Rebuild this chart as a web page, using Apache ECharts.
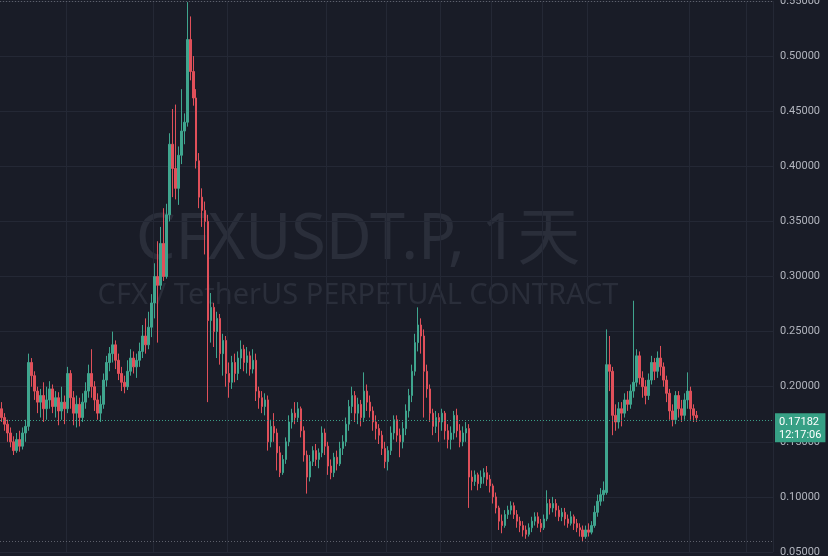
<!DOCTYPE html>
<html>
<head>
<meta charset="utf-8">
<script src="https://cdn.jsdelivr.net/npm/echarts@6/dist/echarts.min.js"></script>
<style>
  html, body { margin: 0; padding: 0; background: #191c27; }
  #kline { width: 828px; height: 556px; }
</style>
</head>
<body>
<div id="kline"></div>
<script type="text/javascript">
	// 价格轴
	var yMin = 0.05, yMax = 0.55, yStep = 0.05;
	var lastPrice = 0.17182;
	var countdown = '12:17:06';
	var symbolTitle = 'CFXUSDT.P, 1天';
	var symbolDesc = 'CFX / TetherUS PERPETUAL CONTRACT';

	// 槽位总数 (含右侧空白), 竖向网格所在槽位
	var slotCount = 258;
	var vGridSlots = [22, 51, 76, 109, 129, 147, 164, 181, 196, 230, 249];

	// K线 [open, close, low, high]
	var ohlc = [
		[0.180,0.172,0.168,0.186],[0.172,0.166,0.160,0.176],[0.166,0.158,0.150,0.170],[0.158,0.150,0.145,0.163],
		[0.150,0.142,0.138,0.155],[0.142,0.152,0.140,0.158],[0.152,0.146,0.141,0.160],[0.146,0.158,0.143,0.163],
		[0.158,0.164,0.150,0.170],[0.164,0.222,0.160,0.230],[0.222,0.210,0.200,0.226],[0.210,0.196,0.188,0.214],
		[0.196,0.186,0.176,0.200],[0.186,0.192,0.172,0.198],[0.192,0.180,0.168,0.204],[0.180,0.188,0.170,0.200],
		[0.188,0.198,0.180,0.205],[0.198,0.182,0.176,0.202],[0.182,0.190,0.172,0.196],[0.190,0.178,0.165,0.195],
		[0.178,0.186,0.170,0.200],[0.186,0.180,0.166,0.192],[0.180,0.212,0.176,0.218],[0.212,0.190,0.180,0.215],
		[0.190,0.176,0.165,0.196],[0.176,0.184,0.163,0.192],[0.184,0.172,0.164,0.190],[0.172,0.186,0.168,0.194],
		[0.186,0.196,0.180,0.204],[0.196,0.212,0.190,0.220],[0.212,0.200,0.190,0.234],[0.200,0.188,0.178,0.205],
		[0.188,0.176,0.170,0.194],[0.176,0.184,0.168,0.192],[0.184,0.206,0.180,0.212],[0.206,0.222,0.200,0.228],
		[0.222,0.230,0.214,0.236],[0.230,0.238,0.222,0.250],[0.238,0.224,0.216,0.242],[0.224,0.212,0.206,0.230],
		[0.212,0.204,0.196,0.218],[0.204,0.200,0.194,0.210],[0.200,0.214,0.197,0.224],[0.214,0.226,0.210,0.234],
		[0.226,0.218,0.212,0.232],[0.218,0.224,0.208,0.230],[0.224,0.232,0.218,0.240],[0.232,0.246,0.226,0.256],
		[0.246,0.238,0.230,0.262],[0.238,0.254,0.234,0.268],[0.254,0.276,0.245,0.284],[0.276,0.300,0.262,0.312],
		[0.300,0.292,0.240,0.332],[0.292,0.330,0.288,0.345],[0.330,0.300,0.296,0.362],[0.300,0.356,0.298,0.366],
		[0.356,0.420,0.350,0.430],[0.420,0.398,0.372,0.452],[0.398,0.380,0.370,0.456],[0.380,0.410,0.365,0.418],
		[0.410,0.432,0.402,0.470],[0.432,0.440,0.420,0.448],[0.440,0.515,0.436,0.549],[0.515,0.486,0.478,0.536],
		[0.486,0.462,0.455,0.500],[0.462,0.405,0.398,0.470],[0.405,0.372,0.362,0.412],[0.372,0.360,0.345,0.380],
		[0.360,0.350,0.320,0.368],[0.350,0.260,0.186,0.356],[0.260,0.272,0.240,0.285],[0.272,0.250,0.236,0.276],
		[0.250,0.262,0.226,0.268],[0.262,0.230,0.220,0.266],[0.230,0.242,0.210,0.248],[0.242,0.212,0.200,0.246],
		[0.212,0.204,0.190,0.222],[0.204,0.222,0.198,0.228],[0.222,0.212,0.204,0.230],[0.212,0.226,0.206,0.232],
		[0.226,0.234,0.216,0.242],[0.234,0.222,0.214,0.238],[0.222,0.228,0.212,0.236],[0.228,0.216,0.210,0.232],
		[0.216,0.224,0.212,0.234],[0.224,0.196,0.187,0.230],[0.196,0.190,0.180,0.200],[0.190,0.182,0.176,0.196],
		[0.182,0.188,0.174,0.194],[0.188,0.150,0.142,0.192],[0.150,0.164,0.145,0.170],[0.164,0.158,0.150,0.176],
		[0.158,0.140,0.124,0.162],[0.140,0.122,0.118,0.146],[0.122,0.134,0.120,0.138],[0.134,0.150,0.130,0.154],
		[0.150,0.168,0.146,0.174],[0.168,0.176,0.162,0.180],[0.176,0.172,0.166,0.186],[0.172,0.180,0.168,0.186],
		[0.180,0.160,0.154,0.182],[0.160,0.138,0.132,0.164],[0.138,0.118,0.103,0.142],[0.118,0.132,0.114,0.138],
		[0.132,0.142,0.128,0.146],[0.142,0.134,0.128,0.148],[0.134,0.140,0.126,0.144],[0.140,0.158,0.136,0.164],
		[0.158,0.146,0.138,0.162],[0.146,0.128,0.120,0.150],[0.128,0.122,0.116,0.134],[0.122,0.136,0.118,0.140],
		[0.136,0.130,0.124,0.142],[0.130,0.144,0.128,0.150],[0.144,0.150,0.138,0.156],[0.150,0.166,0.146,0.172],
		[0.166,0.182,0.160,0.188],[0.182,0.192,0.176,0.200],[0.192,0.176,0.168,0.196],[0.176,0.184,0.166,0.190],
		[0.184,0.172,0.164,0.188],[0.172,0.196,0.168,0.213],[0.196,0.186,0.178,0.202],[0.186,0.178,0.172,0.192],
		[0.178,0.168,0.160,0.182],[0.168,0.162,0.152,0.174],[0.162,0.156,0.148,0.166],[0.156,0.144,0.138,0.160],
		[0.144,0.132,0.126,0.150],[0.132,0.142,0.124,0.146],[0.142,0.158,0.138,0.164],[0.158,0.170,0.152,0.174],
		[0.170,0.156,0.150,0.174],[0.156,0.150,0.136,0.162],[0.150,0.162,0.144,0.168],[0.162,0.178,0.156,0.184],
		[0.178,0.192,0.172,0.198],[0.192,0.214,0.186,0.220],[0.214,0.240,0.210,0.248],[0.240,0.256,0.232,0.272],
		[0.256,0.246,0.230,0.262],[0.246,0.214,0.172,0.252],[0.214,0.198,0.190,0.220],[0.198,0.176,0.168,0.202],
		[0.176,0.164,0.156,0.180],[0.164,0.172,0.158,0.178],[0.172,0.168,0.150,0.176],[0.168,0.176,0.160,0.180],
		[0.176,0.160,0.152,0.178],[0.160,0.152,0.144,0.166],[0.152,0.158,0.143,0.164],[0.158,0.174,0.152,0.178],
		[0.174,0.160,0.154,0.180],[0.160,0.150,0.145,0.166],[0.150,0.158,0.146,0.164],[0.158,0.162,0.150,0.168],
		[0.162,0.118,0.090,0.166],[0.118,0.114,0.106,0.124],[0.114,0.120,0.110,0.124],[0.120,0.112,0.106,0.122],
		[0.112,0.118,0.108,0.124],[0.118,0.122,0.112,0.126],[0.122,0.116,0.110,0.128],[0.116,0.110,0.104,0.120],
		[0.110,0.100,0.094,0.112],[0.100,0.090,0.085,0.104],[0.090,0.078,0.070,0.092],[0.078,0.074,0.067,0.084],
		[0.074,0.084,0.072,0.088],[0.084,0.088,0.080,0.092],[0.088,0.092,0.084,0.096],[0.092,0.084,0.080,0.095],
		[0.084,0.078,0.072,0.088],[0.078,0.074,0.068,0.082],[0.074,0.070,0.064,0.078],[0.070,0.066,0.062,0.074],
		[0.066,0.072,0.064,0.076],[0.072,0.078,0.068,0.082],[0.078,0.082,0.074,0.086],[0.082,0.076,0.072,0.086],
		[0.076,0.072,0.068,0.080],[0.072,0.080,0.070,0.084],[0.080,0.094,0.078,0.106],[0.094,0.090,0.084,0.098],
		[0.090,0.094,0.086,0.100],[0.094,0.088,0.082,0.098],[0.088,0.082,0.078,0.092],[0.082,0.086,0.078,0.090],
		[0.086,0.080,0.074,0.090],[0.080,0.076,0.072,0.084],[0.076,0.082,0.074,0.087],[0.082,0.076,0.070,0.084],
		[0.076,0.072,0.068,0.080],[0.072,0.070,0.064,0.076],[0.070,0.064,0.059,0.074],[0.064,0.070,0.062,0.074],
		[0.070,0.068,0.064,0.076],[0.068,0.074,0.066,0.078],[0.074,0.086,0.072,0.092],[0.086,0.096,0.082,0.102],
		[0.096,0.102,0.092,0.108],[0.102,0.106,0.096,0.114],[0.104,0.220,0.102,0.252],[0.220,0.214,0.196,0.246],
		[0.214,0.174,0.156,0.218],[0.174,0.168,0.160,0.184],[0.168,0.180,0.162,0.186],[0.180,0.176,0.164,0.186],
		[0.176,0.188,0.172,0.194],[0.188,0.184,0.178,0.196],[0.184,0.196,0.180,0.202],[0.196,0.204,0.190,0.278],
		[0.204,0.228,0.200,0.234],[0.228,0.208,0.202,0.232],[0.208,0.200,0.190,0.214],[0.200,0.192,0.184,0.206],
		[0.192,0.206,0.188,0.212],[0.206,0.222,0.202,0.228],[0.222,0.214,0.206,0.226],[0.214,0.226,0.208,0.232],
		[0.226,0.218,0.210,0.237],[0.218,0.206,0.200,0.222],[0.206,0.194,0.186,0.210],[0.194,0.178,0.170,0.198],
		[0.178,0.170,0.164,0.184],[0.170,0.192,0.166,0.196],[0.192,0.180,0.172,0.196],[0.180,0.174,0.168,0.188],
		[0.174,0.188,0.170,0.194],[0.188,0.196,0.180,0.213],[0.196,0.180,0.170,0.200],[0.180,0.174,0.168,0.184],
		[0.174,0.17182,0.168,0.178]
	];

	var categories = [];
	for (var i = 0; i < slotCount; i++) categories.push(i);

	var highest = Math.max.apply(null, ohlc.map(function(d) { return d[3]; }));
	var lowest = Math.min.apply(null, ohlc.map(function(d) { return d[2]; }));

	var upColor = '#3fa58e', downColor = '#e0505a';

	var option = {
		backgroundColor : '#191c27',
		animation : false,
		graphic : [ {
			type : 'text',
			z : -10,
			silent : true,
			x : 358,
			y : 241,
			style : {
				text : symbolTitle,
				fill : '#2a2e3a',
				font : '63px "Noto Sans", "Noto Sans CJK SC", sans-serif',
				textAlign : 'center',
				textVerticalAlign : 'middle'
			}
		}, {
			type : 'text',
			z : -10,
			silent : true,
			x : 358,
			y : 296,
			style : {
				text : symbolDesc,
				fill : '#2a2e3a',
				font : '29px "Noto Sans", sans-serif',
				textAlign : 'center',
				textVerticalAlign : 'middle'
			}
		} ],
		grid : {
			left : 0,
			right : 55,
			top : 1,
			bottom : 4,
			outerBoundsMode : 'none',
			containLabel : false
		},
		xAxis : {
			type : 'category',
			data : categories,
			boundaryGap : true,
			axisLine : { show : false },
			axisTick : { show : false },
			axisLabel : { show : false },
			splitLine : {
				show : true,
				interval : function(index) {
					return vGridSlots.indexOf(index) >= 0;
				},
				lineStyle : { color : '#242835', width : 1 }
			}
		},
		yAxis : {
			type : 'value',
			position : 'right',
			min : yMin,
			max : yMax,
			interval : yStep,
			axisLine : { show : false },
			axisTick : { show : false },
			splitLine : { lineStyle : { color : '#242835', width : 1 } },
			axisLabel : {
				showMinLabel : true,
				showMaxLabel : true,
				margin : 7,
				color : '#b2b5be',
				fontSize : 11,
				fontFamily : 'Roboto, "Noto Sans", sans-serif',
				formatter : function(v) { return v.toFixed(5); }
			}
		},
		series : [ {
			type : 'candlestick',
			data : ohlc,
			barWidth : 2,
			itemStyle : {
				color : upColor,
				color0 : downColor,
				borderColor : upColor,
				borderColor0 : downColor,
				borderWidth : 1
			},
			markLine : {
				silent : true,
				symbol : 'none',
				animation : false,
				data : [ {
					yAxis : lastPrice,
					lineStyle : { color : '#3a9e86', type : [1, 2], width : 1 },
					label : {
						show : true,
						position : 'end',
						distance : 2,
						offset : [0, 8],
						backgroundColor : '#37a085',
						padding : [2, 4, 1, 4],
						formatter : '{p|' + lastPrice.toFixed(5) + '}\n{t|' + countdown + '}',
						rich : {
							p : { color : '#ffffff', fontSize : 11, lineHeight : 13, fontFamily : 'Roboto, sans-serif' },
							t : { color : '#ffffff', fontSize : 11, lineHeight : 13, fontFamily : 'Roboto, sans-serif' }
						}
					}
				}, {
					yAxis : highest,
					lineStyle : { color : '#5d606b', type : [1, 2], width : 1 },
					label : { show : false }
				}, {
					yAxis : lowest,
					lineStyle : { color : '#5d606b', type : [1, 2], width : 1 },
					label : { show : false }
				} ]
			}
		} ]
	};

	var chart = echarts.init(document.getElementById('kline'));
	chart.setOption(option);
</script>
</body>
</html>
